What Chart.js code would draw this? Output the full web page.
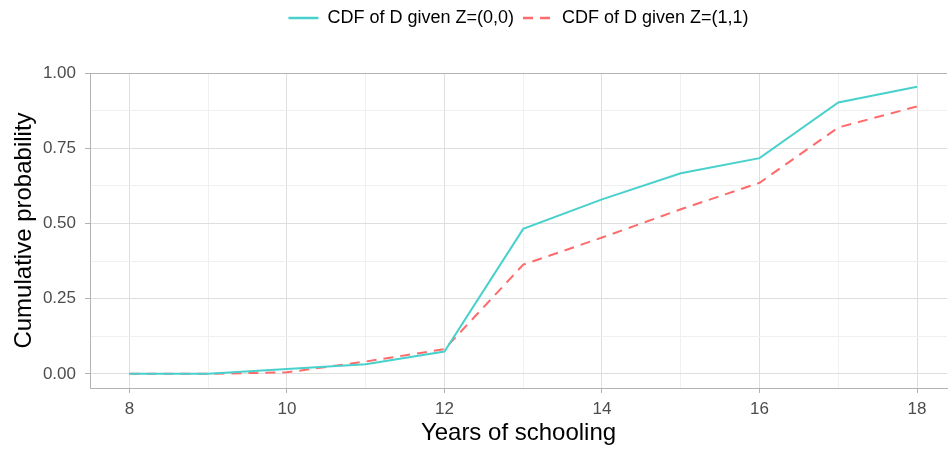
<!DOCTYPE html>
<html>
<head>
<meta charset="utf-8">
<script src="https://cdn.jsdelivr.net/npm/chart.js@4.4.1/dist/chart.umd.min.js"></script>
<style>
  html, body { margin: 0; padding: 0; background: #fff; }
</style>
</head>
<body>
<canvas id="cdfChart" width="948" height="449"></canvas>
<script>
// values
const years = [8, 9, 10, 11, 12, 13, 14, 15, 16, 17, 18];
const cdfZ00 = [0, 0, 0.016, 0.032, 0.074, 0.482, 0.58, 0.667, 0.717, 0.902, 0.954];
const cdfZ11 = [0, 0, 0.005, 0.041, 0.082, 0.363, 0.453, 0.547, 0.635, 0.819, 0.889];
const seriesLabels = ['CDF of D given Z=(0,0)', 'CDF of D given Z=(1,1)'];
const xTicks = [8, 9, 10, 11, 12, 13, 14, 15, 16, 17, 18];
const yTicks = [0, 0.125, 0.25, 0.375, 0.5, 0.625, 0.75, 0.875, 1];

const FONT = "'Liberation Sans', Arial, sans-serif";
const majorGrid = '#dedede';
const minorGrid = '#f0f0f0';
const frame = '#b3b3b3';

function isMajorX(v) { return v % 2 === 0; }
function isMajorY(v) { return Math.abs(v * 4 - Math.round(v * 4)) < 1e-9; }

// push the plot down below the legend, like ggplot does
const legendGap = {
    id: 'legendGap',
    beforeInit(chart) {
        const fit = chart.legend.fit;
        chart.legend.fit = function () {
            fit.bind(chart.legend)();
            this.height += 36;
        };
    }
};

const ctx = document.getElementById('cdfChart').getContext('2d');
new Chart(ctx, {
    type: 'line',
    data: {
        datasets: [{
            label: seriesLabels[0],
            data: years.map((x, i) => ({ x: x, y: cdfZ00[i] })),
            borderColor: '#48D1CC',
            backgroundColor: '#48D1CC',
            borderWidth: 2,
            pointRadius: 0,
            tension: 0
        }, {
            label: seriesLabels[1],
            data: years.map((x, i) => ({ x: x, y: cdfZ11[i] })),
            borderColor: '#FF6B6B',
            backgroundColor: '#FF6B6B',
            borderWidth: 2,
            borderDash: [10, 7],
            pointRadius: 0,
            tension: 0
        }]
    },
    options: {
        responsive: false,
        animation: false,
        layout: { padding: { top: 0, right: 1, bottom: 0, left: 0 } },
        plugins: {
            tooltip: { enabled: false },
            legend: {
                position: 'top',
                align: 'center',
                fullSize: false,
                labels: {
                    usePointStyle: true,
                    pointStyle: 'line',
                    pointStyleWidth: 30,
                    padding: 9,
                    color: '#000',
                    font: { family: FONT, size: 18 },
                    generateLabels: chart => {
                        const items = Chart.defaults.plugins.legend.labels.generateLabels(chart);
                        items.forEach((it, i) => {
                            it.lineDash = chart.data.datasets[i].borderDash || [];
                            it.lineWidth = 2.5;
                        });
                        return items;
                    }
                }
            }
        },
        scales: {
            x: {
                type: 'linear',
                min: 7.5,
                max: 18.38,
                afterBuildTicks: s => { s.ticks = xTicks.map(v => ({ value: v })); },
                afterFit: s => { s.height = 61; },
                ticks: {
                    autoSkip: false,
                    maxRotation: 0,
                    padding: 6,
                    color: '#4d4d4d',
                    font: { family: FONT, size: 17 },
                    callback: v => isMajorX(v) ? String(v) : ''
                },
                grid: {
                    color: c => isMajorX(c.tick.value) ? majorGrid : minorGrid,
                    tickColor: c => isMajorX(c.tick.value) ? frame : 'rgba(0,0,0,0)',
                    tickLength: 5,
                    lineWidth: 1
                },
                border: { color: frame, width: 1 },
                title: {
                    display: true,
                    text: 'Years of schooling',
                    color: '#000',
                    font: { family: FONT, size: 24 },
                    padding: { top: 0, bottom: 1 }
                }
            },
            y: {
                type: 'linear',
                min: -0.047,
                max: 1,
                afterBuildTicks: s => { s.ticks = yTicks.map(v => ({ value: v })); },
                afterFit: s => { s.width = 90; },
                ticks: {
                    padding: 9,
                    color: '#4d4d4d',
                    font: { family: FONT, size: 17 },
                    callback: v => isMajorY(v) ? v.toFixed(2) : ''
                },
                grid: {
                    color: c => c.tick.value === 1 ? frame : (isMajorY(c.tick.value) ? majorGrid : minorGrid),
                    tickColor: c => isMajorY(c.tick.value) ? frame : 'rgba(0,0,0,0)',
                    tickLength: 5,
                    lineWidth: 1
                },
                border: { color: frame, width: 1 },
                title: {
                    display: true,
                    text: 'Cumulative probability',
                    color: '#000',
                    font: { family: FONT, size: 24 },
                    padding: { top: 10, bottom: 0 }
                }
            }
        }
    },
    plugins: [legendGap]
});
</script>
</body>
</html>
